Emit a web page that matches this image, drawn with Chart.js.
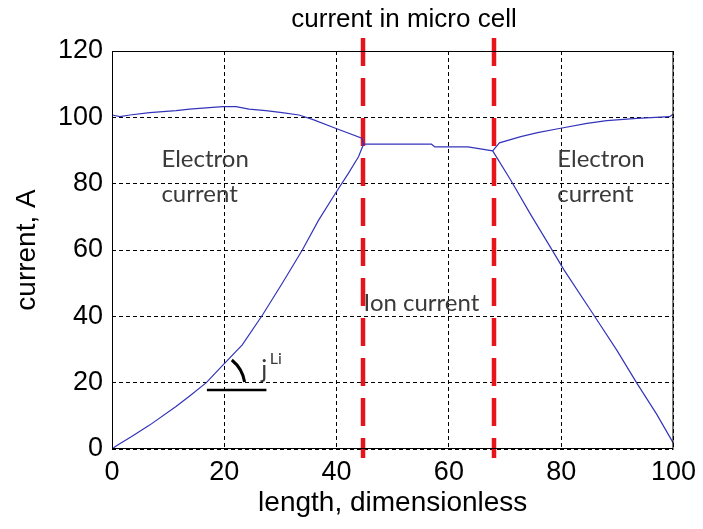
<!DOCTYPE html>
<html>
<head>
<meta charset="utf-8">
<script src="https://cdn.jsdelivr.net/npm/chart.js@4/dist/chart.umd.min.js"></script>
<style>
  html, body { margin: 0; padding: 0; background: #fff; }
  #wrap { width: 703px; height: 529px; }
</style>
</head>
<body>
<div id="wrap"><canvas id="cellChart" width="703" height="529"></canvas></div>
<script>
// current along the micro cell (length is dimensionless)
const ionX = [0, 0.8, 3.5, 6.7, 11.4, 14.0, 16.8, 19.7, 23.2, 26.8, 30.3, 33.9, 36.8, 39.8, 42.1, 43.9, 44.8,
              50, 56.9, 57.5, 63.4, 67.8, 71.0, 74.6, 78.1, 80.5, 85.8, 89.9, 93.5, 97.0, 100];
const ionY = [0, 1.0, 3.8, 7.2, 12.8, 16.2, 20.0, 25.2, 31.4, 40.4, 49.9, 60.0, 69.0, 77.1, 83.1, 88.1, 91.9,
              91.9, 91.9, 91.1, 91.1, 89.9, 81.1, 70.6, 60.8, 54.0, 40.4, 29.8, 19.8, 10.5, 1.7];

const elecLeftX = [0, 1.4, 3.2, 6.7, 11.4, 13.8, 19.7, 22.1, 24.4, 27.4, 30.3, 33.3, 35.7, 39.8, 44.5, 44.8];
const elecLeftY = [100.7, 100.2, 100.7, 101.4, 102.0, 102.5, 103.2, 103.2, 102.5, 102.0, 101.4, 100.7, 99.4, 96.7, 93.7, 91.9];
const elecRightX = [67.8, 69.0, 72.8, 75.8, 79.9, 84.6, 88.1, 93.5, 99.3, 100];
const elecRightY = [89.9, 92.3, 94.2, 95.4, 96.7, 98.2, 99.0, 99.7, 100.2, 101.0];

// boundaries of the ion-conducting zone
const zoneEdges = [44.7, 68.0];

const xTicks = [0, 20, 40, 60, 80, 100];
const yTicks = [0, 20, 40, 60, 80, 100, 120];

const pts = (xs, ys) => xs.map((x, i) => ({ x: x, y: ys[i] }));

const BLUE = '#3434bb';
const ARIAL = "'Liberation Sans', Arial, sans-serif";
const NOTE = "Lato, 'Open Sans', sans-serif";

const boxPlugin = {
    id: 'box',
    beforeDatasetsDraw(chart) {
        const { ctx, chartArea: a, scales } = chart;
        // red dashed zone boundaries, a bit longer than the axes box
        ctx.save();
        ctx.strokeStyle = '#e8141c';
        ctx.lineWidth = 4.5;
        ctx.setLineDash([28, 12]);
        zoneEdges.forEach(v => {
            const px = Math.round(scales.x.getPixelForValue(v));
            ctx.beginPath();
            ctx.moveTo(px, a.top - 13);
            ctx.lineTo(px, a.bottom + 9);
            ctx.stroke();
        });
        ctx.restore();
    },
    afterDatasetsDraw(chart) {
        const { ctx, chartArea: a, scales } = chart;
        const X = v => scales.x.getPixelForValue(v);
        const Y = v => scales.y.getPixelForValue(v);
        ctx.save();
        // frame
        ctx.strokeStyle = '#000';
        ctx.lineWidth = 1;
        ctx.strokeRect(a.left + 0.5, a.top + 0.5, a.right - a.left - 1, a.bottom - a.top - 1);

        // title
        ctx.fillStyle = '#000';
        ctx.font = '26px ' + ARIAL;
        ctx.textAlign = 'center';
        ctx.textBaseline = 'alphabetic';
        ctx.fillText('current in micro cell', 404, 27);

        // region notes
        ctx.fillStyle = '#3a3a3a';
        ctx.font = '24px ' + NOTE;
        ctx.textAlign = 'left';
        ctx.fillText('Electron', X(8.8), Y(85.0));
        ctx.fillText('current', X(8.8), Y(74.4));
        ctx.fillText('Electron', X(79.3), Y(85.0));
        ctx.fillText('current', X(79.3), Y(74.4));
        ctx.fillText('Ion current', X(44.8), Y(41.6));

        // slope mark j^Li
        ctx.strokeStyle = '#000';
        ctx.lineWidth = 2.5;
        ctx.beginPath();
        ctx.moveTo(X(16.9), Y(17.8));
        ctx.lineTo(X(27.5), Y(17.8));
        ctx.stroke();
        ctx.lineWidth = 3;
        ctx.beginPath();
        ctx.arc(X(17.3), Y(18.4), 36, -0.89, -0.17);
        ctx.stroke();
        ctx.fillStyle = '#3a3a3a';
        ctx.font = '25px ' + NOTE;
        ctx.fillText('j', X(26.6), Y(21.4));
        ctx.font = '16px ' + NOTE;
        ctx.fillText('Li', X(28.1), Y(25.6));
        ctx.restore();
    }
};

const lineStyle = { borderColor: BLUE, borderWidth: 1.2, pointRadius: 0, tension: 0, fill: false };

new Chart(document.getElementById('cellChart'), {
    type: 'line',
    data: {
        datasets: [
            Object.assign({ label: 'ion current', data: pts(ionX, ionY) }, lineStyle),
            Object.assign({ label: 'electron current', data: pts(elecLeftX, elecLeftY) }, lineStyle),
            Object.assign({ label: 'electron current (right)', data: pts(elecRightX, elecRightY) }, lineStyle)
        ]
    },
    options: {
        responsive: false,
        animation: false,
        events: [],
        layout: { padding: { top: 51, right: 26, left: 0, bottom: 0 } },
        plugins: { legend: { display: false }, tooltip: { enabled: false }, title: { display: false } },
        scales: {
            x: {
                type: 'linear',
                min: 0, max: 100,
                afterFit: s => { s.height = 80; },
                afterBuildTicks: s => { s.ticks = xTicks.map(v => ({ value: v })); },
                grid: { color: '#000', lineWidth: 1, drawTicks: false },
                border: { display: false, dash: [4, 3] },
                ticks: { color: '#000', padding: 7, maxRotation: 0, font: { family: ARIAL, size: 27 } },
                title: { display: true, text: 'length, dimensionless', color: '#000',
                         padding: { top: 0, bottom: 9 }, font: { family: ARIAL, size: 28 } }
            },
            y: {
                type: 'linear',
                min: 0, max: 120,
                afterFit: s => { s.width = 112; },
                afterBuildTicks: s => { s.ticks = yTicks.map(v => ({ value: v })); },
                grid: { color: '#000', lineWidth: 1, drawTicks: false },
                border: { display: false, dash: [4, 3] },
                ticks: { color: '#000', padding: 9, font: { family: ARIAL, size: 27 } },
                title: { display: true, text: 'current, A', color: '#000',
                         padding: { top: 10, bottom: 0 }, font: { family: ARIAL, size: 28 } }
            }
        }
    },
    plugins: [boxPlugin]
});
</script>
</body>
</html>
